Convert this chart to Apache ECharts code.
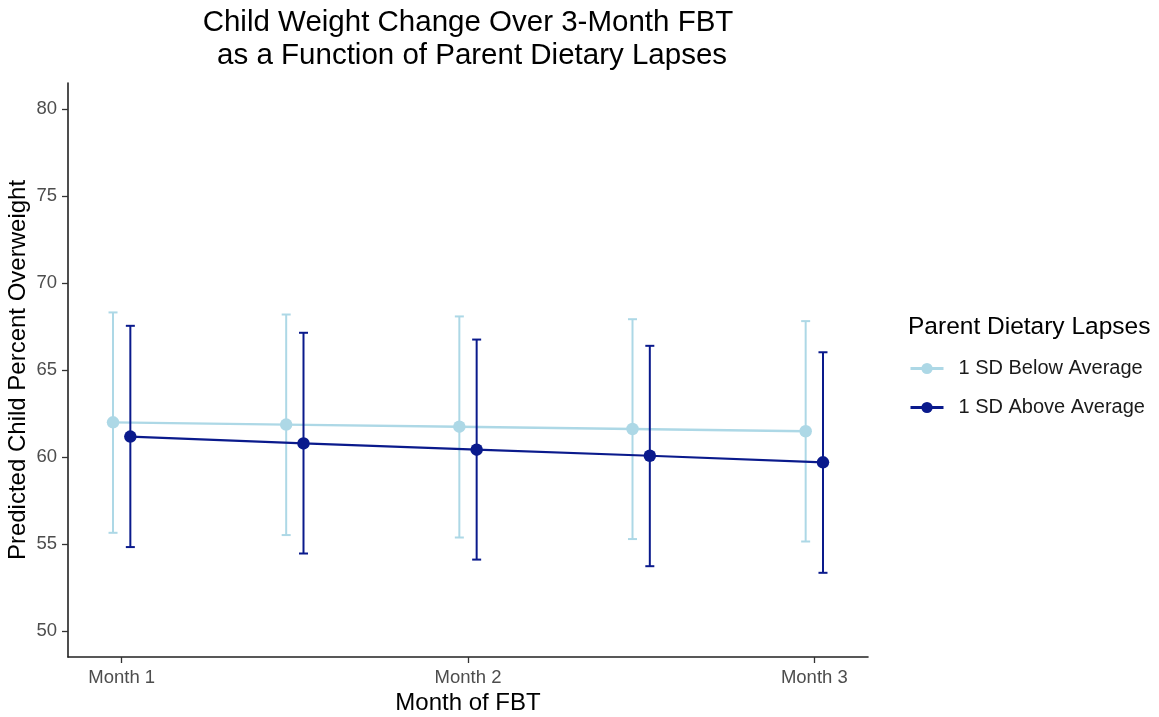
<!DOCTYPE html>
<html>
<head>
<meta charset="utf-8">
<script src="https://cdn.jsdelivr.net/npm/echarts@6/dist/echarts.min.js"></script>
<style>html,body{margin:0;padding:0;background:#fff}#c{width:1159px;height:717px}</style>
</head>
<body>
<div id="c"></div>
<script>
// ---- data ----
const months = [1, 1.5, 2, 2.5, 3];
const monthTicks = [1, 2, 3];
const yTicks = [50, 55, 60, 65, 70, 75, 80];
const seriesNames = ['1 SD Below Average', '1 SD Above Average'];
const belowMean = [61.99, 61.86, 61.74, 61.61, 61.48];
const belowLow  = [55.64, 55.51, 55.37, 55.28, 55.14];
const belowHigh = [68.31, 68.19, 68.08, 67.92, 67.81];
const aboveMean = [61.17, 60.78, 60.42, 60.07, 59.69];
const aboveLow  = [54.82, 54.45, 54.10, 53.72, 53.34];
const aboveHigh = [67.54, 67.14, 66.75, 66.39, 66.02];

// ---- styling / build ----
const colors = ['#ADD8E6', '#0A1A8C'];
const dodge = [-0.025, 0.025];
const capWidth = 0.026;
const font = '"Liberation Sans", Arial, Helvetica, sans-serif';

function pts(mean, k) { return months.map((m, i) => [m + dodge[k], mean[i]]); }
function bars(lo, hi, k) { return months.map((m, i) => [m + dodge[k], lo[i], hi[i]]); }

function errRender(color) {
  return function (params, api) {
    const x = api.value(0);
    const lo = api.coord([x, api.value(1)]);
    const hi = api.coord([x, api.value(2)]);
    const hw = api.size([capWidth, 0])[0] / 2;
    const style = { stroke: color, lineWidth: 2 };
    return {
      type: 'group',
      children: [
        { type: 'line', shape: { x1: lo[0], y1: lo[1], x2: hi[0], y2: hi[1] }, style },
        { type: 'line', shape: { x1: lo[0] - hw, y1: lo[1], x2: lo[0] + hw, y2: lo[1] }, style },
        { type: 'line', shape: { x1: hi[0] - hw, y1: hi[1], x2: hi[0] + hw, y2: hi[1] }, style }
      ]
    };
  };
}

const chart = echarts.init(document.getElementById('c'), null, { renderer: 'canvas' });
chart.setOption({
  backgroundColor: '#fff',
  animation: false,
  textStyle: { fontFamily: font },
  graphic: [
    { type: 'text', position: [468, 23], style: { text: 'Child Weight Change Over 3-Month FBT', align: 'center', verticalAlign: 'middle', font: '29.5px ' + font, fill: '#000' } },
    { type: 'text', position: [468, 56], style: { text: ' as a Function of Parent Dietary Lapses', align: 'center', verticalAlign: 'middle', font: '29.5px ' + font, fill: '#000' } },
    { type: 'text', position: [908, 327], style: { text: 'Parent Dietary Lapses', align: 'left', verticalAlign: 'middle', font: '24.5px ' + font, fill: '#000' } }
  ],
  legend: {
    orient: 'vertical',
    left: 904,
    top: 353,
    itemWidth: 33,
    itemHeight: 14,
    itemGap: 18,
    lineStyle: { width: 3 },
    textStyle: { fontSize: 20, lineHeight: 21, color: '#1a1a1a', fontFamily: font, padding: [0, 0, 0, 10] },
    data: seriesNames
  },
  grid: { left: 68, right: 291, top: 83, bottom: 60, containLabel: false, outerBoundsMode: 'none' },
  xAxis: {
    type: 'value', min: 0.845, max: 3.155,
    name: 'Month of FBT', nameLocation: 'middle', nameGap: 34, nameMoveOverlap: false,
    nameTextStyle: { fontSize: 24, color: '#000', fontFamily: font },
    axisLine: { show: true, lineStyle: { color: '#222', width: 1.6 } },
    axisTick: { show: true, length: 6, lineStyle: { color: '#333', width: 1.3 }, customValues: monthTicks },
    axisLabel: { customValues: monthTicks, formatter: v => 'Month ' + v, fontSize: 18.5, color: '#4d4d4d', margin: 11 },
    splitLine: { show: false }
  },
  yAxis: {
    type: 'value', min: 48.5, max: 81.5,
    name: 'Predicted Child Percent Overweight', nameLocation: 'middle', nameGap: 38, nameMoveOverlap: false,
    nameTextStyle: { fontSize: 24, color: '#000', fontFamily: font },
    axisLine: { show: true, lineStyle: { color: '#222', width: 1.6 } },
    axisTick: { show: true, length: 6, lineStyle: { color: '#333', width: 1.3 }, customValues: yTicks },
    axisLabel: { customValues: yTicks, fontSize: 18.5, color: '#4d4d4d', margin: 11 },
    splitLine: { show: false }
  },
  series: [
    { name: seriesNames[0], type: 'line', data: pts(belowMean, 0), symbol: 'circle', symbolSize: 12.5, lineStyle: { color: colors[0], width: 2.4 }, itemStyle: { color: colors[0] }, z: 2 },
    { name: seriesNames[1], type: 'line', data: pts(aboveMean, 1), symbol: 'circle', symbolSize: 12.5, lineStyle: { color: colors[1], width: 2.2 }, itemStyle: { color: colors[1] }, z: 4 },
    { name: seriesNames[0], type: 'custom', renderItem: errRender(colors[0]), data: bars(belowLow, belowHigh, 0), encode: { x: 0, y: [1, 2] }, z: 1, itemStyle: { color: colors[0] } },
    { name: seriesNames[1], type: 'custom', renderItem: errRender(colors[1]), data: bars(aboveLow, aboveHigh, 1), encode: { x: 0, y: [1, 2] }, z: 3, itemStyle: { color: colors[1] } }
  ]
});
</script>
</body>
</html>
